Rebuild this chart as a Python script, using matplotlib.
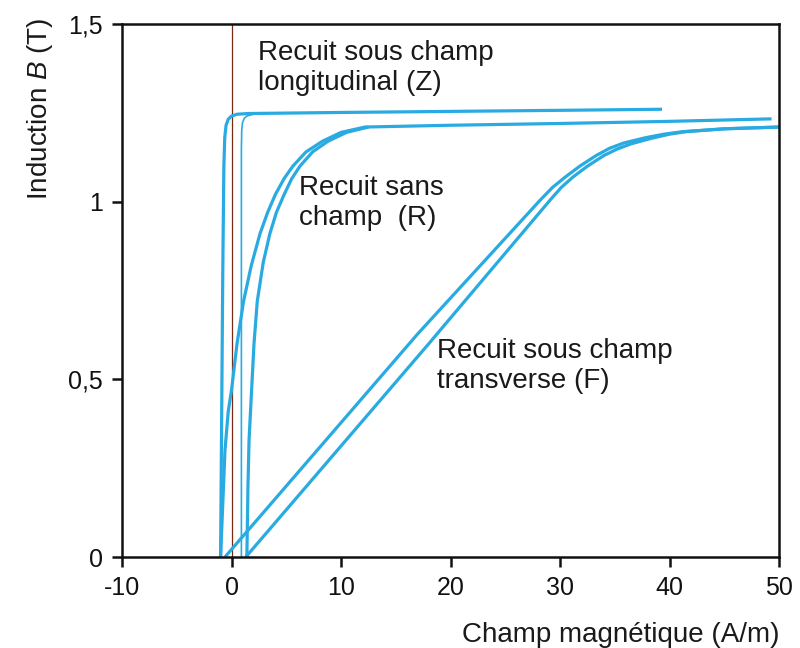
import numpy as np
import matplotlib.pyplot as plt

plt.rcParams['font.family'] = ['Liberation Sans', 'DejaVu Sans']
plt.rcParams['mathtext.fontset'] = 'custom'
plt.rcParams['mathtext.it'] = 'Liberation Sans:italic'
plt.rcParams['mathtext.rm'] = 'Liberation Sans'
plt.rcParams['axes.unicode_minus'] = False

# Recuit sous champ longitudinal (Z)
z_gauche_x = [-1.0, -0.9, -0.8, -0.7, -0.62, -0.5, -0.3, 0.0, 0.5, 1.5, 10, 20, 30, 39.3]
z_gauche_y = [0, 0.4, 0.8, 1.1, 1.18, 1.215, 1.232, 1.241, 1.246, 1.248, 1.251, 1.254, 1.257, 1.26]
z_droite_x = [0.9, 0.9, 0.93, 1.0, 1.15, 1.4, 2.0, 3.0]
z_droite_y = [0, 1.15, 1.2, 1.222, 1.234, 1.241, 1.246, 1.248]

# Recuit sans champ (R)
r_gauche_x = [-1.0, -0.8, -0.6, -0.3, 0, 0.5, 1.1, 1.8, 2.6, 3.3, 4.0, 4.8, 5.6, 6.8,
              8.3, 10, 12.2, 20, 30, 40, 49.3]
r_gauche_y = [0, 0.15, 0.3, 0.41, 0.47, 0.6, 0.72, 0.82, 0.91, 0.97, 1.02, 1.065, 1.10, 1.14,
              1.17, 1.195, 1.21, 1.215, 1.22, 1.226, 1.233]
r_droite_x = [1.4, 1.45, 1.5, 1.6, 1.8, 2.05, 2.35, 2.9, 3.5, 4.1, 4.8, 5.5, 6.25, 7.4,
              8.8, 10.5, 12.5]
r_droite_y = [0, 0.1, 0.2, 0.33, 0.45, 0.6, 0.72, 0.83, 0.91, 0.97, 1.02, 1.065, 1.10, 1.14,
              1.17, 1.195, 1.21]

# Recuit sous champ transverse (F)
f_gauche_x = [-0.6, 17, 28.2, 29.3, 30.5, 31.8, 33.3, 34.5, 35.8, 37.8, 39.5, 41.2, 45, 50]
f_gauche_y = [0, 0.628, 1.005, 1.04, 1.07, 1.10, 1.13, 1.15, 1.165, 1.18, 1.19, 1.197, 1.205, 1.21]
f_droite_x = [1.3, 18, 29.1, 30.1, 31.2, 32.5, 34.0, 35.2, 36.5, 38.3, 40, 41.5, 45, 50]
f_droite_y = [0, 0.6, 1.005, 1.04, 1.07, 1.10, 1.13, 1.148, 1.163, 1.178, 1.19, 1.197, 1.205, 1.21]

x_ticks = [-10, 0, 10, 20, 30, 40, 50]
y_ticks = [0, 0.5, 1, 1.5]
y_labels = ['0', '0,5', '1', '1,5']

bleu = '#29abe2'
fig = plt.figure(figsize=(8, 6.48), dpi=100)
ax = fig.add_axes([0.1525, 0.1404, 0.8215, 0.8226])

ax.axvline(0, color='#7a2a14', lw=0.9, zorder=1)
for xs, ys in [(z_gauche_x, z_gauche_y), (r_gauche_x, r_gauche_y), (r_droite_x, r_droite_y),
               (f_gauche_x, f_gauche_y), (f_droite_x, f_droite_y)]:
    ax.plot(xs, ys, color=bleu, lw=2.3, solid_joinstyle='round', solid_capstyle='butt')
ax.plot(z_droite_x, z_droite_y, color=bleu, lw=1.2)

ax.set_xlim(-10, 50)
ax.set_ylim(0, 1.5)
ax.set_xticks(x_ticks)
ax.set_yticks(y_ticks)
ax.set_yticklabels(y_labels)
for s in ax.spines.values():
    s.set_linewidth(1.8)
    s.set_color('#111111')
ax.tick_params(direction='out', length=7, width=1.8, labelsize=18, pad=7, colors='#111111')

txt = dict(fontsize=20, color='#1a1a1a', ha='left', va='top')
ax.text(2.4, 1.455, 'Recuit sous champ\nlongitudinal (Z)', **txt)
ax.text(6.2, 1.075, 'Recuit sans\nchamp  (R)', **txt)
ax.text(18.8, 0.616, 'Recuit sous champ\ntransverse (F)', **txt)

fig.text(40 / 800, 1 - 18 / 648, r'Induction $\mathit{B}$ (T)', rotation=90,
         ha='center', va='top', fontsize=20, color='#1a1a1a')
fig.text(780 / 800, 1 - 642 / 648, 'Champ magnétique (A/m)', ha='right',
         va='baseline', fontsize=20, color='#1a1a1a')

fig.savefig('out.png', dpi=100)
